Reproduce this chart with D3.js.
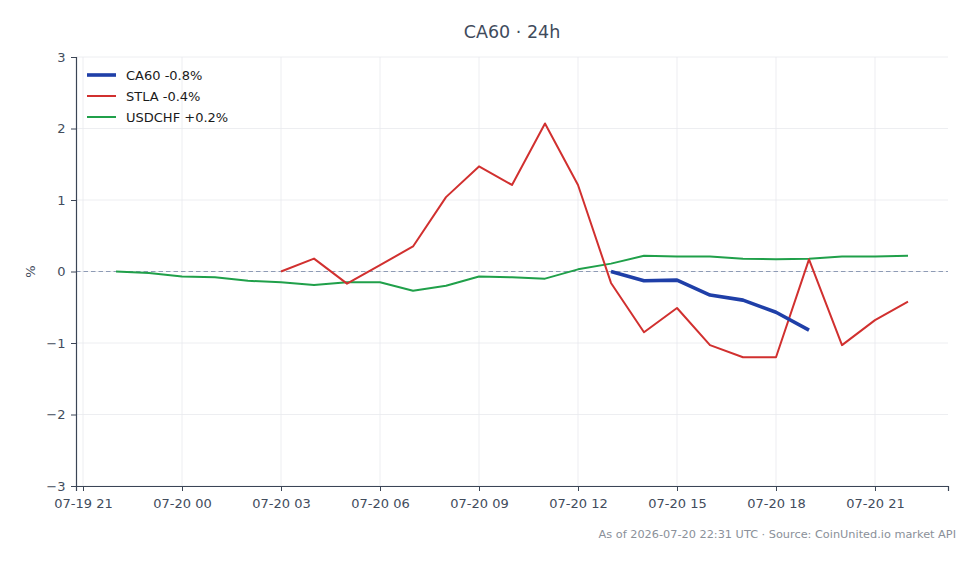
<!DOCTYPE html>
<html>
<head>
<meta charset="utf-8">
<script src="https://cdn.jsdelivr.net/npm/d3@7"></script>
<style>
  body { margin: 0; background: #fff; }
  text { font-family: "DejaVu Sans", sans-serif; }
</style>
</head>
<body>
<div id="chart"></div>
<script>
// hourly samples, UTC
var caHours = ["2026-07-20T13", "2026-07-20T14", "2026-07-20T15", "2026-07-20T16", "2026-07-20T17", "2026-07-20T18", "2026-07-20T19"];
var caValues = [0.0, -0.13, -0.12, -0.33, -0.40, -0.57, -0.82];

var stlaHours = ["2026-07-20T03", "2026-07-20T04", "2026-07-20T05", "2026-07-20T06", "2026-07-20T07", "2026-07-20T08",
  "2026-07-20T09", "2026-07-20T10", "2026-07-20T11", "2026-07-20T12", "2026-07-20T13", "2026-07-20T14",
  "2026-07-20T15", "2026-07-20T16", "2026-07-20T17", "2026-07-20T18", "2026-07-20T19", "2026-07-20T20",
  "2026-07-20T21", "2026-07-20T22"];
var stlaValues = [0.0, 0.18, -0.17, 0.09, 0.35, 1.04, 1.47, 1.21, 2.07, 1.21, -0.16, -0.85,
  -0.51, -1.03, -1.20, -1.20, 0.17, -1.03, -0.68, -0.42];

var usdHours = ["2026-07-19T22", "2026-07-19T23", "2026-07-20T00", "2026-07-20T01", "2026-07-20T02", "2026-07-20T03",
  "2026-07-20T04", "2026-07-20T05", "2026-07-20T06", "2026-07-20T07", "2026-07-20T08", "2026-07-20T09",
  "2026-07-20T10", "2026-07-20T11", "2026-07-20T12", "2026-07-20T13", "2026-07-20T14", "2026-07-20T15",
  "2026-07-20T16", "2026-07-20T17", "2026-07-20T18", "2026-07-20T19", "2026-07-20T20", "2026-07-20T21",
  "2026-07-20T22"];
var usdValues = [0.0, -0.02, -0.07, -0.08, -0.13, -0.15, -0.19, -0.15, -0.15, -0.27, -0.20, -0.07,
  -0.08, -0.10, 0.03, 0.11, 0.22, 0.21, 0.21, 0.18, 0.17, 0.18, 0.21, 0.21, 0.22];

var seriesNames = ["CA60 -0.8%", "STLA -0.4%", "USDCHF +0.2%"];
var yTicks = [-3, -2, -1, 0, 1, 2, 3];

var parseHour = d3.utcParse("%Y-%m-%dT%H");
function toPoints(hours, values) {
  return hours.map(function (h, i) { return { t: parseHour(h), v: values[i] }; });
}

var series = [
  { name: seriesNames[0], color: "#1f3fa8", width: 3.6, pts: toPoints(caHours, caValues) },
  { name: seriesNames[1], color: "#d1302f", width: 2, pts: toPoints(stlaHours, stlaValues) },
  { name: seriesNames[2], color: "#20a04a", width: 2, pts: toPoints(usdHours, usdValues) }
];

// dimensions
var W = 980, H = 564;
var margin = { top: 57, right: 32, bottom: 78, left: 76 },
    width = W - margin.left - margin.right,
    height = H - margin.top - margin.bottom;

var svg = d3.select("#chart")
    .append("svg")
    .attr("width", W)
    .attr("height", H);

var g = svg.append("g")
    .attr("transform", "translate(" + margin.left + "," + margin.top + ")");

// x domain: a bit before 07-19 21:00 to a bit after 07-20 23:00
var x = d3.scaleTime()
    .domain([new Date(Date.UTC(2026, 6, 19, 20, 47, 16)), new Date(Date.UTC(2026, 6, 20, 23, 12, 44))])
    .range([0, width]);

var y = d3.scaleLinear()
    .domain([-3, 3])
    .range([height, 0]);

var xTicks = d3.utcHour.every(3).range(parseHour("2026-07-19T21"), parseHour("2026-07-20T22"));

// grid
g.append("g").selectAll("line.vg")
    .data(xTicks).enter().append("line")
    .attr("x1", function (d) { return x(d); })
    .attr("x2", function (d) { return x(d); })
    .attr("y1", 0).attr("y2", height)
    .attr("stroke", "#e8eaee").attr("stroke-width", 0.8);

g.append("g").selectAll("line.hg")
    .data(yTicks).enter().append("line")
    .attr("x1", 0).attr("x2", width)
    .attr("y1", function (d) { return y(d); })
    .attr("y2", function (d) { return y(d); })
    .attr("stroke", "#e8eaee").attr("stroke-width", 0.8);

// zero reference
g.append("line")
    .attr("x1", 0).attr("x2", width)
    .attr("y1", y(0)).attr("y2", y(0))
    .attr("stroke", "#8e9bb5").attr("stroke-width", 1)
    .attr("stroke-dasharray", "4.5,3");

// axes
var xAxis = g.append("g")
    .attr("transform", "translate(0," + height + ")")
    .call(d3.axisBottom(x).tickValues(xTicks).tickFormat(d3.utcFormat("%m-%d %H")).tickSizeOuter(0).tickSize(5));

var yAxis = g.append("g")
    .call(d3.axisLeft(y).tickValues(yTicks).tickFormat(function (d) { return d < 0 ? "\u2212" + Math.abs(d) : d; }).tickSizeOuter(0).tickSize(5));

[xAxis, yAxis].forEach(function (a) {
  a.select(".domain").attr("stroke", "#3b4556").attr("stroke-width", 1.2);
  a.selectAll(".tick line").attr("stroke", "#3b4556");
  a.selectAll(".tick text").attr("fill", "#424c5c").style("font-size", "13px")
      .style("font-family", "'DejaVu Sans', sans-serif");
});
xAxis.selectAll(".tick text").attr("dy", "1.1em");
yAxis.selectAll(".tick text").attr("dx", "-0.2em");

// lines
var line = d3.line()
    .x(function (d) { return x(d.t); })
    .y(function (d) { return y(d.v); });

// draw USDCHF and STLA first, CA60 on top
[series[2], series[1], series[0]].forEach(function (s) {
  g.append("path")
      .datum(s.pts)
      .attr("fill", "none")
      .attr("stroke", s.color)
      .attr("stroke-width", s.width)
      .attr("stroke-linejoin", "round")
      .attr("d", line);
});

// legend
var legend = g.append("g").attr("transform", "translate(11,18)");
series.forEach(function (s, i) {
  legend.append("line")
      .attr("x1", 0).attr("x2", 29)
      .attr("y1", i * 21).attr("y2", i * 21)
      .attr("stroke", s.color).attr("stroke-width", s.width);
  legend.append("text")
      .attr("x", 39).attr("y", i * 21)
      .attr("dy", "0.35em")
      .attr("fill", "#1a1a1a")
      .style("font-size", "13px")
      .text(s.name);
});

// y label
svg.append("text")
    .attr("transform", "translate(35," + (margin.top + y(0)) + ") rotate(-90)")
    .attr("text-anchor", "middle")
    .attr("fill", "#424c5c")
    .style("font-size", "13px")
    .text("%");

// title
svg.append("text")
    .attr("x", 512).attr("y", 38)
    .attr("text-anchor", "middle")
    .attr("fill", "#3f4b5c")
    .style("font-size", "17.5px")
    .text("CA60 \u00b7 24h");

// footer
svg.append("text")
    .attr("x", 956).attr("y", 538)
    .attr("text-anchor", "end")
    .attr("fill", "#8a9099")
    .style("font-size", "11.3px")
    .text("As of 2026-07-20 22:31 UTC \u00b7 Source: CoinUnited.io market API");
</script>
</body>
</html>
